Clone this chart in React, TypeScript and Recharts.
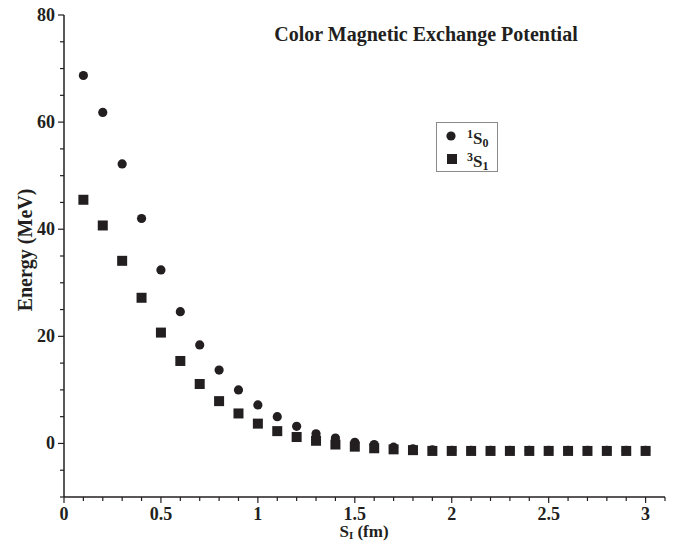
import { ScatterChart, Scatter, XAxis, YAxis, Label } from "recharts"

const INK = "#231f20"
const FONT = "'Liberation Serif', 'Times New Roman', serif"

// separation in fm
const distances = [
  0.1, 0.2, 0.3, 0.4, 0.5, 0.6, 0.7, 0.8, 0.9, 1.0,
  1.1, 1.2, 1.3, 1.4, 1.5, 1.6, 1.7, 1.8, 1.9, 2.0,
  2.1, 2.2, 2.3, 2.4, 2.5, 2.6, 2.7, 2.8, 2.9, 3.0,
]
// 1S0 (circles), MeV
const singletEnergy = [
  68.7, 61.8, 52.2, 42.0, 32.4, 24.6, 18.4, 13.7, 10.0, 7.2,
  5.0, 3.2, 1.8, 1.0, 0.2, -0.2, -0.7, -1.0, -1.2, -1.3,
  -1.3, -1.3, -1.3, -1.3, -1.3, -1.3, -1.3, -1.3, -1.3, -1.3,
]
// 3S1 (squares), MeV
const tripletEnergy = [
  45.5, 40.7, 34.1, 27.2, 20.7, 15.4, 11.1, 7.9, 5.6, 3.7,
  2.3, 1.2, 0.5, -0.2, -0.6, -0.9, -1.1, -1.25, -1.4, -1.4,
  -1.4, -1.4, -1.4, -1.4, -1.4, -1.4, -1.4, -1.4, -1.4, -1.4,
]

const xTicks = [
  0, 0.1, 0.2, 0.3, 0.4, 0.5, 0.6, 0.7, 0.8, 0.9, 1, 1.1, 1.2, 1.3, 1.4, 1.5,
  1.6, 1.7, 1.8, 1.9, 2, 2.1, 2.2, 2.3, 2.4, 2.5, 2.6, 2.7, 2.8, 2.9, 3, 3.1,
]
const xLabelled = [0, 0.5, 1, 1.5, 2, 2.5, 3]
const yTicks = [-10, -5, 0, 5, 10, 15, 20, 25, 30, 35, 40, 45, 50, 55, 60, 65, 70, 75, 80]
const yLabelled = [0, 20, 40, 60, 80]

const singlet = distances.map((x, i) => ({ x, y: singletEnergy[i] }))
const triplet = distances.map((x, i) => ({ x, y: tripletEnergy[i] }))

const XTick = (props: any) => {
  const { x, y, payload } = props
  const major = xLabelled.includes(payload.value)
  return (
    <g>
      <line x1={x} x2={x} y1={y} y2={y + (major ? 6 : 4)} stroke={INK} strokeWidth={1.2} />
      {major && (
        <text x={x} y={y + 23} textAnchor="middle" fill={INK} fontFamily={FONT} fontWeight="bold" fontSize={18}>
          {payload.value}
        </text>
      )}
    </g>
  )
}

const YTick = (props: any) => {
  const { x, y, payload } = props
  const major = yLabelled.includes(payload.value)
  return (
    <g>
      <line x1={x} x2={x - (major ? 6 : 4)} y1={y} y2={y} stroke={INK} strokeWidth={1.2} />
      {major && (
        <text x={x - 9} y={y + 6} textAnchor="end" fill={INK} fontFamily={FONT} fontWeight="bold" fontSize={18}>
          {payload.value}
        </text>
      )}
    </g>
  )
}

const Dot = (props: any) => <circle cx={props.cx} cy={props.cy} r={4.6} fill={INK} />
const Square = (props: any) => (
  <rect x={props.cx - 5} y={props.cy - 5} width={10} height={10} fill={INK} />
)

export default function App() {
  return (
    <div style={{ position: "absolute", left: 0, top: 0, width: 685, height: 541, background: "#fff" }}>
      <ScatterChart width={685} height={541} margin={{ top: 15, right: 20, bottom: 0, left: 0 }}>
        <XAxis
          type="number"
          dataKey="x"
          domain={[0, 3.1]}
          ticks={xTicks}
          interval={0}
          height={44}
          tickSize={0}
          tickMargin={0}
          tickLine={false}
          tick={<XTick />}
          axisLine={{ stroke: INK, strokeWidth: 1.5 }}
        >
          <Label
            content={() => (
              <text x={364} y={537} textAnchor="middle" fill={INK} fontFamily={FONT} fontWeight="bold" fontSize={17}>
                S<tspan fontSize={11} dy={2}>I</tspan>
                <tspan dy={-2}> (fm)</tspan>
              </text>
            )}
          />
        </XAxis>
        <YAxis
          type="number"
          dataKey="y"
          domain={[-10, 80]}
          ticks={yTicks}
          interval={0}
          width={64}
          tickSize={0}
          tickMargin={0}
          tickLine={false}
          tick={<YTick />}
          axisLine={{ stroke: INK, strokeWidth: 1.5 }}
        >
          <Label
            content={() => (
              <text
                x={25}
                y={250}
                transform="rotate(-90 25 250)"
                textAnchor="middle"
                dominantBaseline="central"
                fill={INK}
                fontFamily={FONT}
                fontWeight="bold"
                fontSize={20}
              >
                Energy (MeV)
              </text>
            )}
          />
        </YAxis>
        <Scatter name="1S0" data={singlet} shape={<Dot />} isAnimationActive={false} />
        <Scatter name="3S1" data={triplet} shape={<Square />} isAnimationActive={false} />
      </ScatterChart>

      <div
        style={{
          position: "absolute",
          left: 256,
          top: 23,
          width: 340,
          textAlign: "center",
          fontFamily: FONT,
          fontWeight: "bold",
          fontSize: 20,
          color: INK,
          lineHeight: "22px",
          whiteSpace: "nowrap",
        }}
      >
        Color Magnetic Exchange Potential
      </div>

      <div
        style={{
          position: "absolute",
          left: 436,
          top: 122,
          width: 62,
          height: 50,
          border: "1px solid #8a8a8a",
          boxSizing: "border-box",
        }}
      >
        <svg width={62} height={50} style={{ position: "absolute", left: -1, top: -1 }}>
          <circle cx={15} cy={14} r={4.6} fill={INK} />
          <text x={31} y={22} fontFamily={FONT} fontWeight="bold" fontSize={17} fill={INK}>
            <tspan fontSize={12} dy={-6}>1</tspan>
            <tspan dy={6}>S</tspan>
            <tspan fontSize={12} dy={3}>0</tspan>
          </text>
          <rect x={11} y={32} width={10} height={10} fill={INK} />
          <text x={31} y={45} fontFamily={FONT} fontWeight="bold" fontSize={17} fill={INK}>
            <tspan fontSize={12} dy={-6}>3</tspan>
            <tspan dy={6}>S</tspan>
            <tspan fontSize={12} dy={3}>1</tspan>
          </text>
        </svg>
      </div>
    </div>
  )
}
